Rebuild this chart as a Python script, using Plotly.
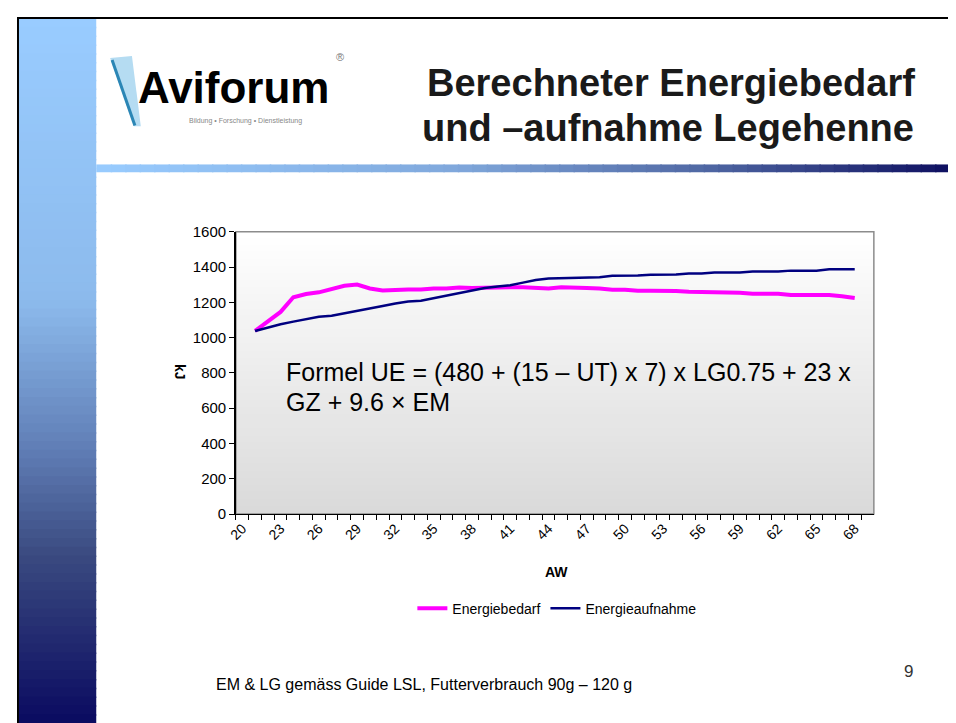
import plotly.graph_objects as go

# ---------------- data ----------------
categories = [str(v) for v in range(20, 70)]
aw = [str(v) for v in range(21, 69)]
energiebedarf = [1038, 1094, 1146, 1229, 1247, 1257, 1275, 1294, 1301, 1279,
                 1268, 1273, 1273, 1273, 1279, 1279, 1284, 1281, 1284, 1284,
                 1286, 1286, 1283, 1279, 1286, 1281, 1281, 1279, 1272, 1272,
                 1266, 1266, 1266, 1264, 1260, 1260, 1255, 1255, 1255, 1249,
                 1249, 1249, 1242, 1242, 1242, 1242, 1235, 1225]
energieaufnahme = [1038, 1059, 1076, 1091, 1105, 1118, 1124, 1137, 1150, 1164,
                   1179, 1194, 1205, 1209, 1223, 1238, 1253, 1266, 1281, 1290,
                   1297, 1312, 1327, 1336, 1338, 1343, 1343, 1343, 1351, 1351,
                   1353, 1356, 1356, 1358, 1364, 1364, 1369, 1369, 1369, 1375,
                   1375, 1375, 1380, 1380, 1380, 1388, 1388, 1388]
tick_labels = [c if (int(c) - 20) % 3 == 0 else "" for c in categories]
y_ticks = [0, 200, 400, 600, 800, 1000, 1200, 1400, 1600]

W, H = 956, 723
OFF = 8  # page body margin: the figure is drawn 8 px right/down in the window


def px(x):
    return (x - OFF) / W


def py(y):
    return 1 - (y - OFF) / H


def lerp_stops(stops, t):
    for (t0, c0), (t1, c1) in zip(stops[:-1], stops[1:]):
        if t0 <= t <= t1:
            f = 0 if t1 == t0 else (t - t0) / (t1 - t0)
            return "rgb(%d,%d,%d)" % tuple(round(a + (b - a) * f) for a, b in zip(c0, c1))
    return "rgb(%d,%d,%d)" % stops[-1][1]


shapes = []

# left vertical gradient bar
vstops = [(9, (153, 204, 255)), (300, (140, 186, 236)), (450, (96, 126, 182)),
          (560, (58, 74, 128)), (731, (10, 10, 96))]
n = 80
y0, y1 = 9, 731
for i in range(n):
    a = y0 + (y1 - y0) * i / n
    b = y0 + (y1 - y0) * (i + 1) / n
    shapes.append(dict(type="rect", xref="paper", yref="paper",
                       x0=px(10), x1=px(88), y0=py(a), y1=py(b + 1.5),
                       fillcolor=lerp_stops(vstops, (a + b) / 2), line=dict(width=0), layer="below"))

# horizontal gradient bar under title
hstops = [(88, (153, 204, 255)), (450, (128, 168, 220)), (700, (80, 104, 164)), (964, (10, 10, 92))]
n = 60
for i in range(n):
    a = 88 + (964 - 88) * i / n
    b = 88 + (964 - 88) * (i + 1) / n
    shapes.append(dict(type="rect", xref="paper", yref="paper",
                       x0=px(a), x1=px(b + 1.5), y0=py(159), y1=py(167),
                       fillcolor=lerp_stops(hstops, (a + b) / 2), line=dict(width=0), layer="below"))

# black frame lines (top, left)
shapes.append(dict(type="rect", xref="paper", yref="paper", x0=px(8), x1=px(964), y0=py(8), y1=py(10),
                   fillcolor="black", line=dict(width=0), layer="below"))
shapes.append(dict(type="rect", xref="paper", yref="paper", x0=px(8), x1=px(10), y0=py(8), y1=py(731),
                   fillcolor="black", line=dict(width=0), layer="below"))

# logo stripe
shapes.append(dict(type="path", xref="paper", yref="paper",
                   path="M %f,%f L %f,%f L %f,%f L %f,%f Z" % (px(102), py(50), px(124), py(48),
                                                               px(133), py(120), px(126), py(120)),
                   fillcolor="#b5dcf2", line=dict(width=0), layer="below"))
shapes.append(dict(type="line", xref="paper", yref="paper",
                   x0=px(104), y0=py(52), x1=px(127), y1=py(119),
                   line=dict(color="#2b86b5", width=3), layer="below"))

# plot area gradient (white -> light gray)
gstops = [(0, (255, 255, 255)), (1, (218, 218, 218))]
n = 40
for i in range(n):
    a = i / n
    b = (i + 1) / n
    shapes.append(dict(type="rect", xref="x domain", yref="y domain",
                       x0=0, x1=1, y0=1 - b, y1=1 - a + 0.004,
                       fillcolor=lerp_stops(gstops, (a + b) / 2), line=dict(width=0), layer="below"))
# plot area border
shapes.append(dict(type="rect", xref="x domain", yref="y domain", x0=0, x1=1, y0=0, y1=1,
                   line=dict(color="#8c8c8c", width=1.5), fillcolor="rgba(0,0,0,0)", layer="below"))

fig = go.Figure()
fig.add_trace(go.Scatter(x=aw, y=energiebedarf, mode="lines", name="Energiebedarf",
                         line=dict(color="#FF00FF", width=4)))
fig.add_trace(go.Scatter(x=aw, y=energieaufnahme, mode="lines", name="Energieaufnahme",
                         line=dict(color="#000080", width=2.5)))

annotations = [
    dict(text="<b>Berechneter Energiebedarf</b>", x=px(668), y=py(76), xref="paper", yref="paper",
         xanchor="center", yanchor="middle", showarrow=False,
         font=dict(family="Arial", size=38, color="#1a1a1a")),
    dict(text="<b>und –aufnahme Legehenne</b>", x=px(665), y=py(122), xref="paper", yref="paper",
         xanchor="center", yanchor="middle", showarrow=False,
         font=dict(family="Arial", size=38, color="#1a1a1a")),
    dict(text="<b>Aviforum</b>", x=px(128), y=py(80), xref="paper", yref="paper",
         xanchor="left", yanchor="middle", showarrow=False,
         font=dict(family="Arial", size=44, color="black")),
    dict(text="®", x=px(334), y=py(49), xref="paper", yref="paper",
         xanchor="center", yanchor="middle", showarrow=False,
         font=dict(family="Arial", size=11, color="#777777")),
    dict(text="Bildung • Forschung • Dienstleistung", x=px(239), y=py(115), xref="paper", yref="paper",
         xanchor="center", yanchor="middle", showarrow=False,
         font=dict(family="Arial", size=7, color="#888888")),
    dict(text="Formel UE = (480 + (15 – UT) x 7) x LG0.75 + 23 x", x=px(278), y=py(372),
         xref="paper", yref="paper", xanchor="left", yanchor="middle", showarrow=False,
         font=dict(family="Arial", size=25, color="black")),
    dict(text="GZ + 9.6 × EM", x=px(278), y=py(402),
         xref="paper", yref="paper", xanchor="left", yanchor="middle", showarrow=False,
         font=dict(family="Arial", size=25, color="black")),
    dict(text="<b>kJ</b>", x=px(172), y=py(372), xref="paper", yref="paper",
         xanchor="center", yanchor="middle", showarrow=False, textangle=90,
         font=dict(family="Arial", size=14, color="black")),
    dict(text="<b>AW</b>", x=px(553), y=py(576), xref="paper", yref="paper",
         xanchor="center", yanchor="middle", showarrow=False,
         font=dict(family="Arial", size=14, color="black")),
    dict(text="EM & LG gemäss Guide LSL, Futterverbrauch 90g – 120 g", x=px(207), y=py(692),
         xref="paper", yref="paper", xanchor="left", yanchor="middle", showarrow=False,
         font=dict(family="Arial", size=16, color="black")),
    dict(text="9", x=px(908), y=py(678), xref="paper", yref="paper",
         xanchor="center", yanchor="middle", showarrow=False,
         font=dict(family="Arial", size=17, color="#333333")),
]

fig.update_layout(
    width=W, height=H, autosize=False,
    margin=dict(l=0, r=0, t=0, b=0),
    paper_bgcolor="white", plot_bgcolor="rgba(0,0,0,0)",
    shapes=shapes, annotations=annotations,
    showlegend=True,
    legend=dict(orientation="h", x=px(553), xanchor="center", y=py(614), yanchor="middle",
                font=dict(family="Arial", size=14, color="black"),
                itemwidth=30, tracegroupgap=0, bgcolor="rgba(0,0,0,0)"),
    xaxis=dict(domain=[px(229), px(873)], type="category",
               categoryorder="array", categoryarray=categories,
               range=[-0.5, len(categories) - 0.5],
               tickmode="array", tickvals=categories, ticktext=tick_labels,
               tickson="boundaries", ticks="outside", ticklen=5, tickcolor="black",
               tickangle=-45, tickfont=dict(family="Arial", size=14, color="black"),
               showline=True, linecolor="black", linewidth=1,
               showgrid=False, zeroline=False),
    yaxis=dict(domain=[py(517), py(228)], range=[0, 1600],
               tickmode="array", tickvals=y_ticks,
               ticks="outside", ticklen=5, tickcolor="black",
               tickfont=dict(family="Arial", size=15, color="black"),
               showline=True, linecolor="black", linewidth=1.5,
               showgrid=False, zeroline=False),
)

fig.write_html("out.html", config={"displayModeBar": False})
